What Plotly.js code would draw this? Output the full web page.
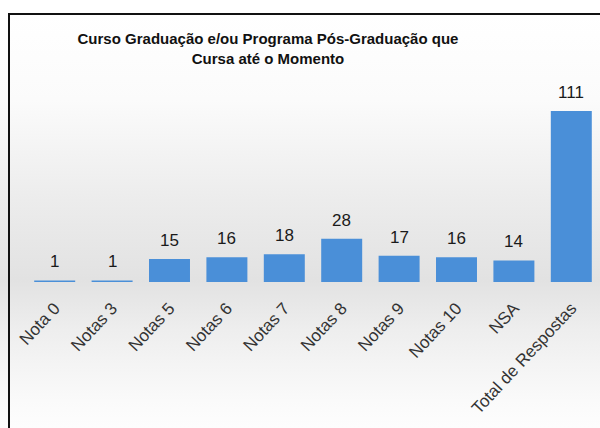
<!DOCTYPE html>
<html>
<head>
<meta charset="utf-8">
<script src="https://cdn.plot.ly/plotly-3.0.1.min.js"></script>
<style>
html,body{margin:0;padding:0;}
body{width:600px;height:428px;overflow:hidden;background:#ffffff;}
#wrap{position:absolute;left:0;top:0;width:600px;height:428px;
 background:linear-gradient(to bottom,#ffffff 0px,#ffffff 14px,#fbfbfb 100px,#ececec 200px,#e2e2e2 280px,#eeeeee 330px,#fafafa 400px,#fdfdfd 428px);}
#frame{position:absolute;left:8px;top:13px;width:600px;height:430px;border-left:2px solid #111;border-top:2px solid #111;}
#chart{position:absolute;left:0;top:0;width:600px;height:428px;}
</style>
</head>
<body>
<div id="wrap"></div>
<div id="frame"></div>
<div id="chart"></div>
<script>
const categories = ["Nota 0","Notas 3","Notas 5","Notas 6","Notas 7","Notas 8","Notas 9","Notas 10","NSA","Total de Respostas"];
const values = [1,1,15,16,18,28,17,16,14,111];
const titleText = "Curso Graduação e/ou Programa Pós-Graduação que<br>Cursa até o Momento";

const font = "Liberation Sans, Arial, sans-serif";

const trace = {
  type: "bar",
  x: categories,
  y: values,
  marker: {color: "#4a8fd8", line: {width: 0}},
  hoverinfo: "none"
};

const annotations = categories.map((c, i) => ({
  x: c, y: values[i], xref: "x", yref: "y",
  text: String(values[i]), showarrow: false,
  yanchor: "bottom", yshift: 7,
  font: {family: font, size: 17, color: "#1a1a1a"}
}));

const layout = {
  width: 600, height: 428,
  margin: {l: 26, r: 0, t: 100, b: 146},
  paper_bgcolor: "rgba(0,0,0,0)",
  plot_bgcolor: "rgba(0,0,0,0)",
  title: {
    text: titleText,
    font: {family: font, size: 15, color: "#111111", weight: "bold"},
    xref: "container", x: 268/600, xanchor: "center",
    yref: "container", y: 1 - 44/428, yanchor: "top"
  },
  bargap: 0.286,
  showlegend: false,
  xaxis: {
    type: "category",
    tickangle: -47,
    ticklabelstandoff: 12,
    tickfont: {family: font, size: 17, color: "#333333"},
    showline: false, showgrid: false, ticks: "", zeroline: false,
    fixedrange: true
  },
  yaxis: {
    range: [0, 118.1],
    visible: false,
    showgrid: false, zeroline: false
  },
  annotations: annotations
};

Plotly.newPlot("chart", [trace], layout, {displayModeBar: false, staticPlot: true});
</script>
</body>
</html>
